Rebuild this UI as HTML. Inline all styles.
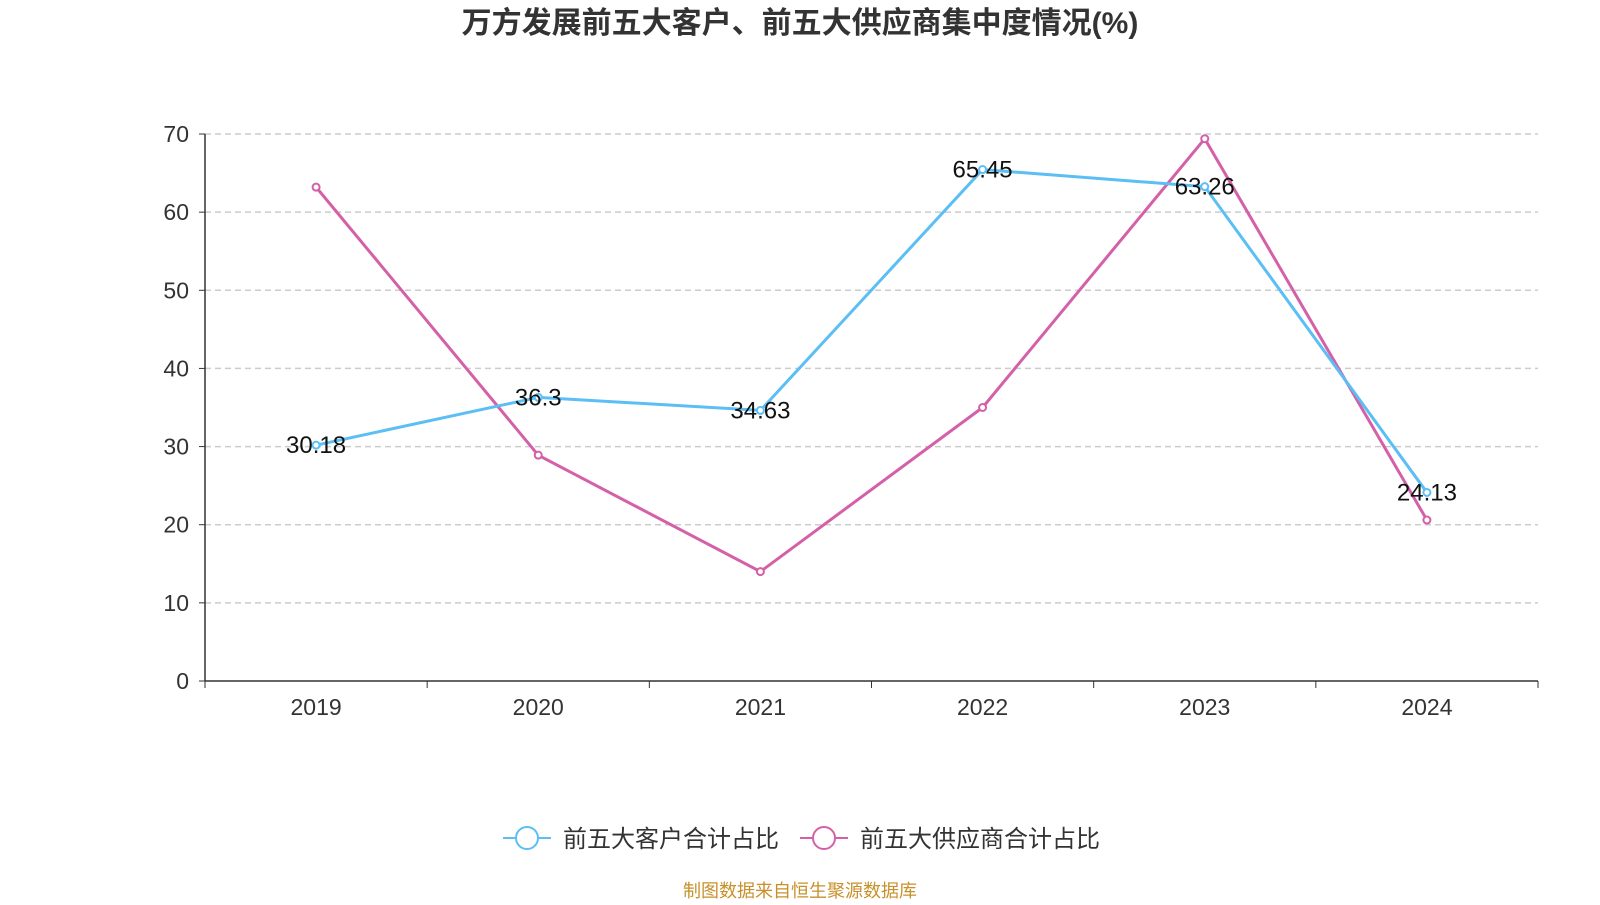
<!DOCTYPE html>
<html><head><meta charset="utf-8"><style>
body{margin:0;background:#fff;width:1600px;height:900px;overflow:hidden;font-family:"Liberation Sans","Noto Sans CJK SC",sans-serif}
</style></head><body>
<svg id="c" width="1600" height="900" xmlns="http://www.w3.org/2000/svg">
<text x="800" y="33" text-anchor="middle" font-size="30" font-weight="bold" fill="#333">万方发展前五大客户、前五大供应商集中度情况(%)</text>
<g id="grid"></g><g id="axes"></g><g id="series"></g>
<g>
<g><line x1="503" y1="838" x2="551" y2="838" stroke="#5bbef5" stroke-width="2"/><circle cx="527" cy="838" r="11" fill="#fff" stroke="#5bbef5" stroke-width="2"/><text x="563" y="847" font-size="24" fill="#333">前五大客户合计占比</text></g>
<g><line x1="800" y1="838" x2="848" y2="838" stroke="#d460a8" stroke-width="2"/><circle cx="824" cy="838" r="11" fill="#fff" stroke="#d460a8" stroke-width="2"/><text x="860" y="847" font-size="24" fill="#333">前五大供应商合计占比</text></g>
</g>
<text x="800" y="897" text-anchor="middle" font-size="18" fill="#c8902a">制图数据来自恒生聚源数据库</text>
</svg>
<script>
const categories=["2019","2020","2021","2022","2023","2024"];
const customers=[30.18,36.3,34.63,65.45,63.26,24.13];
const suppliers=[63.2,28.9,14.0,35.0,69.4,20.6];
const yTicks=[0,10,20,30,40,50,60,70];
const NS="http://www.w3.org/2000/svg";
const x0=205,x1=1538,yTop=134,yBot=681,yMax=70;
const step=(x1-x0)/categories.length;
const X=i=>x0+step*(i+0.5);
const Y=v=>yBot-(v/yMax)*(yBot-yTop);
function mk(t,a,p){const e=document.createElementNS(NS,t);for(const k in a)e.setAttribute(k,a[k]);p.appendChild(e);return e;}
const grid=document.getElementById('grid'),axes=document.getElementById('axes'),ser=document.getElementById('series');
yTicks.forEach(v=>{
 if(v>0){const l=mk('line',{x1:x0,x2:x1,y1:Y(v),y2:Y(v),stroke:'#ccc','stroke-dasharray':'6,4','stroke-width':1.5},grid);
 
 }
 mk('line',{x1:x0-6,x2:x0,y1:Y(v),y2:Y(v),stroke:'#333'},axes);
 const t=mk('text',{x:x0-16,y:Y(v)+8,'text-anchor':'end','font-size':23,fill:'#333'},axes);t.textContent=v;
 
 
});
mk('line',{x1:x0,x2:x0,y1:yTop,y2:yBot,stroke:'#333','stroke-width':1.5},axes);
mk('line',{x1:x0,x2:x1,y1:yBot,y2:yBot,stroke:'#333','stroke-width':1.5},axes);
for(let i=0;i<=categories.length;i++)mk('line',{x1:x0+step*i,x2:x0+step*i,y1:yBot,y2:yBot+7,stroke:'#333'},axes);
categories.forEach((c,i)=>{const t=mk('text',{x:X(i),y:yBot+34,'text-anchor':'middle','font-size':23,fill:'#333'},axes);t.textContent=c;
 
 });
function draw(data,color,name,labels){
 const p=mk('polyline',{points:data.map((v,i)=>X(i)+','+Y(v)).join(' '),fill:'none',stroke:color,'stroke-width':3},ser);
 
 
 data.forEach((v,i)=>{const c=mk('circle',{cx:X(i),cy:Y(v),r:3.5,fill:'#fff',stroke:color,'stroke-width':2},ser);
  
  
  if(labels){const t=mk('text',{x:X(i),y:Y(v)+8,'text-anchor':'middle','font-size':24,fill:'#111'},ser);t.textContent=v;
  
  }});
}
draw(suppliers,'#d460a8','suppliers',false);
draw(customers,'#5bbef5','customers',true);
</script>
</body></html>
